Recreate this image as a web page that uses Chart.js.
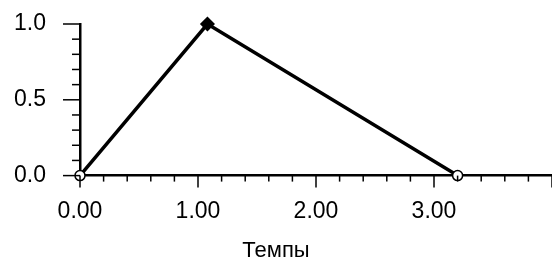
<!DOCTYPE html>
<html>
<head>
<meta charset="utf-8">
<script src="https://cdn.jsdelivr.net/npm/chart.js@4"></script>
<style>
  html, body { margin: 0; padding: 0; background: #fff; }
  #wrap { width: 552px; height: 265px; }
</style>
</head>
<body>
<div id="wrap"><canvas id="chart" width="552" height="265"></canvas></div>
<script>
// values
const xValues = [0, 1.08, 3.2];
const yValues = [0, 1.0, 0];
const pointShapes = ["circle", "rectRot", "circle"];
const pointFills = ["#fff", "#000", "#fff"];
const xTickLabels = ["0.00", "1.00", "2.00", "3.00"];
const yTickLabels = ["0.0", "0.5", "1.0"];
const xTitle = "Темпы";

const FONT = "'Liberation Sans', Arial, sans-serif";

document.addEventListener("DOMContentLoaded", function () {
  const ctx = document.getElementById("chart").getContext("2d");

  // draws short minor / long major tick marks from the scales' own ticks
  const tickMarks = {
    id: "tickMarks",
    afterDraw(chart) {
      const c = chart.ctx;
      const xs = chart.scales.x;
      const ys = chart.scales.y;
      const area = chart.chartArea;
      c.save();
      c.strokeStyle = "#000";
      c.lineWidth = 1.5;
      xs.ticks.forEach(t => {
        const px = xs.getPixelForValue(t.value);
        const isMajor = Math.abs(t.value - Math.round(t.value)) < 1e-6;
        c.beginPath();
        c.moveTo(px, area.bottom);
        c.lineTo(px, area.bottom + (isMajor ? 12 : 6));
        c.stroke();
      });
      ys.ticks.forEach(t => {
        const py = ys.getPixelForValue(t.value);
        const isMajor = Math.abs(t.value * 2 - Math.round(t.value * 2)) < 1e-6;
        c.beginPath();
        c.moveTo(area.left, py);
        c.lineTo(area.left - (isMajor ? 17 : 8), py);
        c.stroke();
      });
      c.restore();
    }
  };

  new Chart(ctx, {
    type: "scatter",
    data: {
      datasets: [{
        data: xValues.map((x, i) => ({ x: x, y: yValues[i] })),
        showLine: true,
        borderColor: "#000",
        borderWidth: 3.5,
        pointStyle: pointShapes,
        pointBackgroundColor: pointFills,
        pointBorderColor: "#000",
        pointBorderWidth: 1.5,
        pointRadius: [5, 6.5, 5],
        clip: false
      }]
    },
    options: {
      responsive: false,
      animation: false,
      layout: { autoPadding: false, padding: { top: 24, left: 0, right: 0, bottom: 0 } },
      plugins: {
        legend: { display: false },
        tooltip: { enabled: false },
        title: {
          display: true,
          position: "bottom",
          text: xTitle,
          color: "#000",
          font: { family: FONT, size: 22, weight: "normal" },
          padding: { top: 0, bottom: 1 }
        }
      },
      scales: {
        x: {
          type: "linear",
          min: 0,
          max: 4,
          afterFit(scale) {
            scale.height = 62;
            scale.paddingLeft = 0;
            scale.paddingRight = 0;
          },
          border: { display: true, color: "#000", width: 2.5 },
          grid: { display: false, drawTicks: false },
          ticks: {
            stepSize: 0.2,
            autoSkip: false,
            maxRotation: 0,
            padding: 22,
            color: "#000",
            font: { family: FONT, size: 23 },
            callback: function (v) {
              const r = Math.round(v);
              if (Math.abs(v - r) < 1e-6 && r < xTickLabels.length) return xTickLabels[r];
              return "";
            }
          }
        },
        y: {
          min: 0,
          max: 1,
          afterFit(scale) {
            scale.width = 80;
            scale.paddingTop = 0;
            scale.paddingBottom = 0;
          },
          border: { display: true, color: "#000", width: 2.5 },
          grid: { display: false, drawTicks: false },
          ticks: {
            stepSize: 0.1,
            autoSkip: false,
            padding: 34,
            color: "#000",
            font: { family: FONT, size: 23 },
            callback: function (v) {
              const k = Math.round(v * 2);
              if (Math.abs(v * 2 - k) < 1e-6) return yTickLabels[k];
              return "";
            }
          }
        }
      }
    },
    plugins: [tickMarks]
  });
});
</script>
</body>
</html>
